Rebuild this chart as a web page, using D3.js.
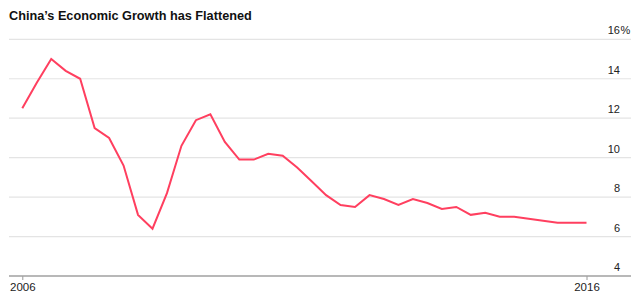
<!DOCTYPE html>
<html>
<head>
<meta charset="utf-8">
<script src="https://cdn.jsdelivr.net/npm/d3@7"></script>
<style>
  body { margin: 0; background: #fff; }
  text { font-family: "Liberation Sans", Arial, sans-serif; }
</style>
</head>
<body>
<svg id="chart"></svg>
<script>
var width = 640,
    height = 300;

// quarterly GDP growth, % year on year
var quarters = ["2006 Q4", "2007 Q1", "2007 Q2", "2007 Q3", "2007 Q4",
                "2008 Q1", "2008 Q2", "2008 Q3", "2008 Q4", "2009 Q1",
                "2009 Q2", "2009 Q3", "2009 Q4", "2010 Q1", "2010 Q2",
                "2010 Q3", "2010 Q4", "2011 Q1", "2011 Q2", "2011 Q3",
                "2011 Q4", "2012 Q1", "2012 Q2", "2012 Q3", "2012 Q4",
                "2013 Q1", "2013 Q2", "2013 Q3", "2013 Q4", "2014 Q1",
                "2014 Q2", "2014 Q3", "2014 Q4", "2015 Q1", "2015 Q2",
                "2015 Q3", "2015 Q4", "2016 Q1", "2016 Q2", "2016 Q3"];
var growth = [12.5, 13.8, 15.0, 14.4, 14.0, 11.5, 11.0, 9.6, 7.1, 6.4,
              8.2, 10.6, 11.9, 12.2, 10.8, 9.9, 9.9, 10.2, 10.1, 9.5,
              8.8, 8.1, 7.6, 7.5, 8.1, 7.9, 7.6, 7.9, 7.7, 7.4,
              7.5, 7.1, 7.2, 7.0, 7.0, 6.9, 6.8, 6.7, 6.7, 6.7];
var yTicks = [4, 6, 8, 10, 12, 14, 16];
var xTickLabels = ["2006", "2016"];

var svg = d3.select("#chart")
            .attr("width", width)
            .attr("height", height);

var x = d3.scalePoint()
          .domain(quarters)
          .range([22.3, 586.5]);

var y = d3.scaleLinear()
          .domain([4, 16])
          .range([276, 39.3]);

// title
svg.append("text")
   .attr("x", 9)
   .attr("y", 20)
   .attr("font-size", 12.7)
   .attr("font-weight", "bold")
   .attr("fill", "#111")
   .text("China\u2019s Economic Growth has Flattened");

// gridlines
svg.append("g")
   .selectAll("line")
   .data(yTicks.filter(function(d) { return d > 4; }))
   .join("line")
   .attr("x1", 9)
   .attr("x2", 631)
   .attr("y1", function(d) { return y(d); })
   .attr("y2", function(d) { return y(d); })
   .attr("stroke", "#e4e4e4")
   .attr("stroke-width", 1.2);

// y labels, sitting above their gridline
svg.append("g")
   .selectAll("text")
   .data(yTicks)
   .join("text")
   .attr("x", 620)
   .attr("y", function(d) { return y(d) - 5; })
   .attr("text-anchor", "end")
   .attr("font-size", 11)
   .attr("fill", "#222")
   .text(function(d) { return d; });

svg.append("text")
   .attr("x", 620.5)
   .attr("y", y(16) - 5)
   .attr("font-size", 11)
   .attr("fill", "#222")
   .text("%");

// x axis
var xAxis = d3.axisBottom(x)
              .tickValues([quarters[0], quarters[quarters.length - 1]])
              .tickFormat(function(d, i) { return xTickLabels[i]; })
              .tickSize(4)
              .tickPadding(3);

var gx = svg.append("g")
            .attr("transform", "translate(0," + y(4) + ")")
            .call(xAxis);
gx.select(".domain").remove();
gx.selectAll(".tick line").attr("stroke", "#999");
gx.selectAll(".tick text")
  .attr("font-size", 11.5)
  .attr("font-family", "Liberation Sans, Arial, sans-serif")
  .attr("fill", "#222");

svg.append("line")
   .attr("x1", 9)
   .attr("x2", 631)
   .attr("y1", y(4))
   .attr("y2", y(4))
   .attr("stroke", "#a0a0a0")
   .attr("stroke-width", 1.5);

// the line
var line = d3.line()
             .x(function(d, i) { return x(quarters[i]); })
             .y(function(d) { return y(d); });

svg.append("path")
   .datum(growth)
   .attr("fill", "none")
   .attr("stroke", "#ff3f5f")
   .attr("stroke-width", 2)
   .attr("stroke-linejoin", "miter")
   .attr("d", line);
</script>
</body>
</html>
